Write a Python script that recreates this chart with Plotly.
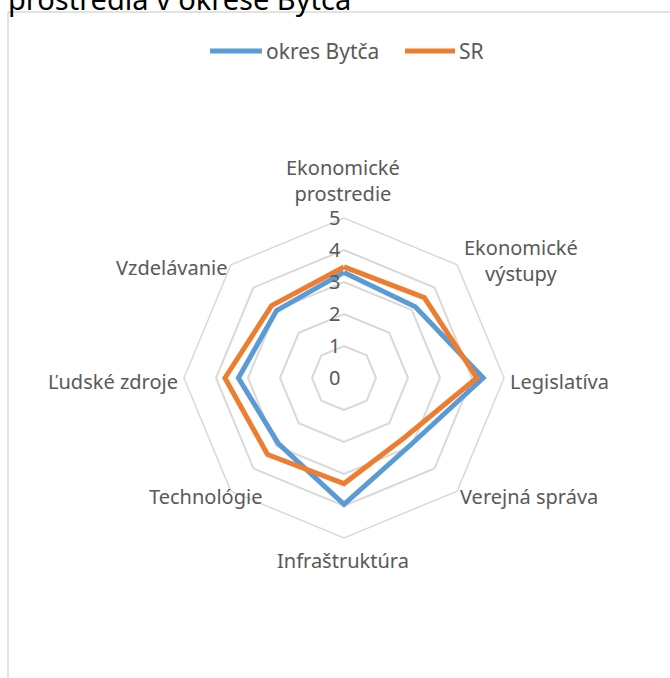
import plotly.graph_objects as go

W, H = 670, 678

categories = ["Ekonomické<br>prostredie", "Ekonomické<br>výstupy", "Legislatíva",
              "Verejná správa", "Infraštruktúra", "Technológie",
              "Ľudské zdroje", "Vzdelávanie"]
bytca = [3.3, 3.15, 4.35, 2.95, 3.95, 2.9, 3.3, 2.98]
sr = [3.47, 3.55, 4.15, 2.65, 3.3, 3.38, 3.72, 3.2]
radial_ticks = [0, 1, 2, 3, 4, 5]
series_names = ["okres Bytča", "SR"]
series_colors = ["#5B9BD5", "#ED7D31"]

font_name = "Noto Sans"
grey_txt = "#595959"
grid_col = "#d9d9d9"

fig = go.Figure()

# close the polygons
for name, vals, col in zip(series_names, [bytca, sr], series_colors):
    fig.add_trace(go.Scatterpolar(
        r=vals + vals[:1], theta=categories + categories[:1],
        mode="lines", name=name,
        line=dict(color=col, width=5)
    ))

# category label placement (px from top-left), excel puts them a bit irregularly
label_pos = [
    (343, 181, "center"), (521, 260, "center"), (508, 381, "left"),
    (458, 496, "left"), (343, 560, "center"), (264, 496, "right"),
    (180, 381, "right"), (230, 267, "right"),
]
anns = [dict(text="prostredia v okrese Bytča", xref="paper", yref="paper",
             x=6 / W, y=1, xanchor="left", yanchor="middle", yshift=2,
             showarrow=False, font=dict(size=29, color="black", family=font_name))]
for txt, (px, py, anc) in zip(categories, label_pos):
    anns.append(dict(text=txt, xref="paper", yref="paper",
                     x=px / W, y=1 - py / H, xanchor=anc, yanchor="middle",
                     showarrow=False, align="center",
                     font=dict(size=20, color=grey_txt, family=font_name)))

shapes = [
    dict(type="line", xref="paper", yref="paper",
         x0=8 / W, x1=8 / W, y0=0, y1=1 - 12 / H,
         line=dict(color=grid_col, width=1.5)),
    dict(type="line", xref="paper", yref="paper",
         x0=8 / W, x1=1, y0=1 - 12 / H, y1=1 - 12 / H,
         line=dict(color=grid_col, width=1.5)),
]

# legend drawn by hand so the swatches get excel's long line
leg_y = 1 - 51 / H
for name, col, (x0, x1) in zip(series_names, series_colors, [(210, 262), (405, 455)]):
    shapes.append(dict(type="line", xref="paper", yref="paper",
                       x0=x0 / W, x1=x1 / W, y0=leg_y, y1=leg_y,
                       line=dict(color=col, width=5)))
    anns.append(dict(text=name, xref="paper", yref="paper",
                     x=(x1 + 2) / W, y=leg_y, xanchor="left", yanchor="middle",
                     showarrow=False,
                     font=dict(size=21, color=grey_txt, family=font_name)))

cx, cy, rad = 344, 378, 160
fig.update_layout(
    width=W, height=H,
    margin=dict(l=0, r=0, t=0, b=0, autoexpand=False),
    paper_bgcolor="white",
    font=dict(family=font_name, size=20, color=grey_txt),
    showlegend=False,
    polar=dict(
        domain=dict(x=[(cx - rad) / W, (cx + rad) / W],
                    y=[(H - cy - rad) / H, (H - cy + rad) / H]),
        gridshape="linear",
        bgcolor="white",
        radialaxis=dict(range=[0, 5], tickvals=radial_ticks, angle=90,
                        tickangle=90, side="counterclockwise",
                        showline=False, ticks="",
                        gridcolor=grid_col, gridwidth=1.5,
                        tickfont=dict(size=20, color=grey_txt)),
        angularaxis=dict(direction="clockwise", rotation=90,
                         showgrid=False, showline=True, showticklabels=False,
                         linecolor=grid_col, linewidth=1.5, ticks=""),
    ),
    shapes=shapes,
    annotations=anns,
)

# page body has a default 8px margin, drop it so the figure sits at 0,0
fig.write_html("out.html", config={"displayModeBar": False},
               post_script="document.body.style.margin='0';")
